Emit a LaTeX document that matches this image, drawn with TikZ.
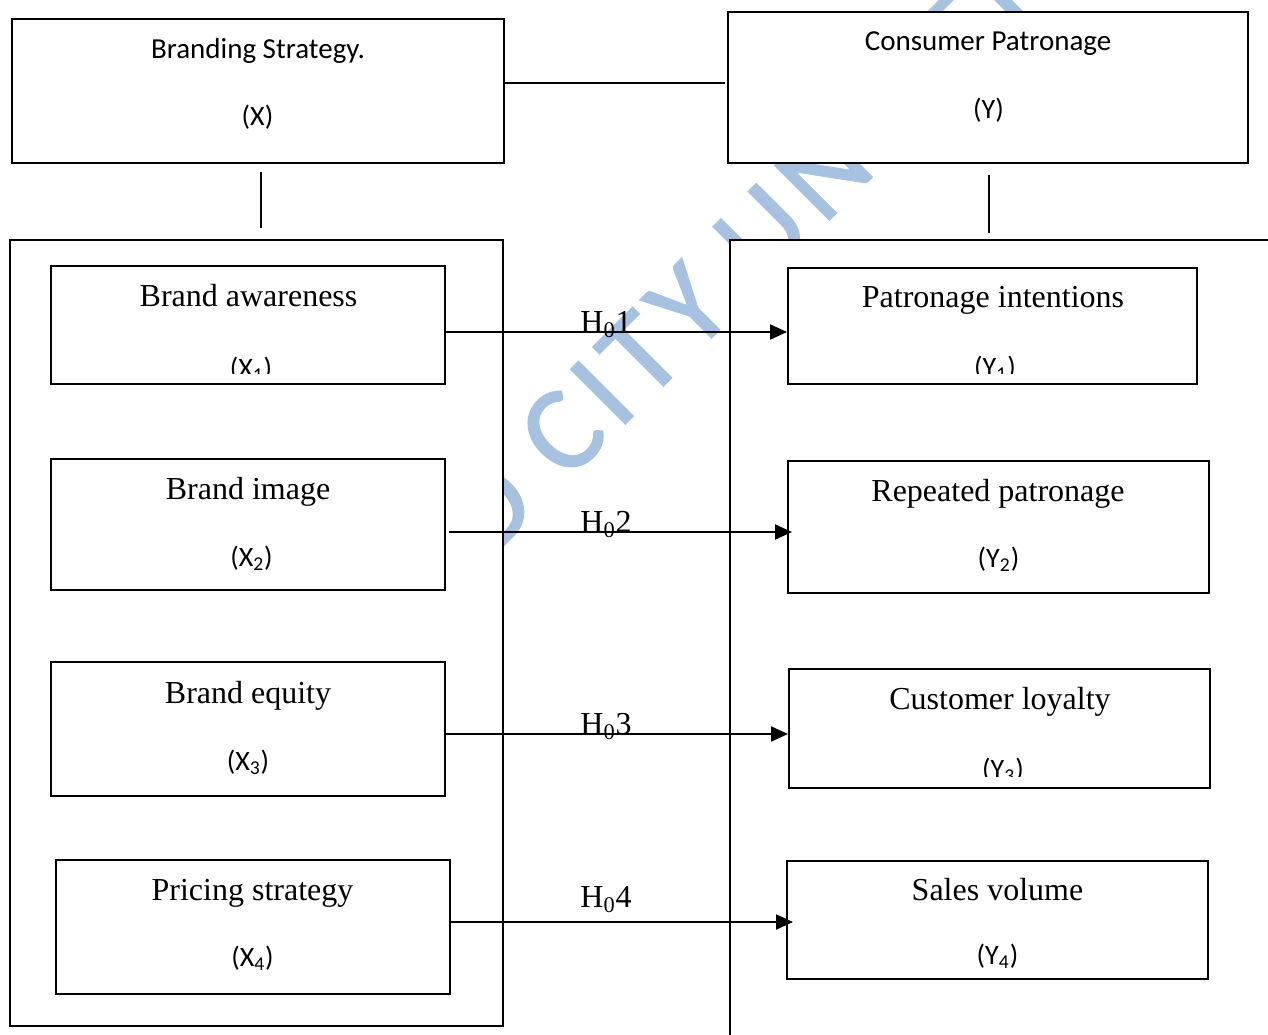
\documentclass[tikz,border=0pt]{standalone}
\usepackage{fontspec}
\setmainfont{Liberation Serif}
\newfontfamily\calfont{Carlito}
\newfontfamily\wmfont[FakeBold=1.6,LetterSpace=8]{Carlito}
\usetikzlibrary{arrows.meta,fit,calc}
\definecolor{wmblue}{RGB}{166,194,224}
\begin{document}
\begin{tikzpicture}[x=0.5pt,y=-0.5pt,
  boxnode/.style={draw, line width=1pt, fill=white, inner sep=0pt},
  ttltxt/.style={inner sep=0pt, anchor=base, font=\fontsize{16}{19}\selectfont},
  captxt/.style={inner sep=0pt, anchor=base, font=\calfont\fontsize{14.5}{17}\selectfont},
  vartxt/.style={inner sep=0pt, anchor=base, font=\calfont\fontsize{14}{17}\selectfont},
  hlabtxt/.style={inner sep=0pt, anchor=base west, font=\fontsize{16}{19}\selectfont},
  connline/.style={line width=1pt},
  arrline/.style={line width=1pt, -{Triangle[length=8.5pt,width=7.5pt]}}]
\clip (0,0) rectangle (1268,1034);
% watermark
\node[text=wmblue, inner sep=0pt, anchor=base west, rotate=45,
      font=\wmfont\fontsize{60}{66}\selectfont] (wm) at (488,561) {D CITY UNIVERSITY};
% outer boxes
\node[boxnode, fit={(10,240) (503,1026)}] (LB) {};
\node[boxnode, fit={(730,240) (1300,1060)}] (RB) {};
\node[boxnode, fit={(12,19) (504,163)}] (X) {};
\node[boxnode, fit={(728,12) (1248,163)}] (Y) {};
% inner boxes
\node[boxnode, fit={(51,266) (445,384)}] (X1) {};
\node[boxnode, fit={(51,459) (445,590)}] (X2) {};
\node[boxnode, fit={(51,662) (445,796)}] (X3) {};
\node[boxnode, fit={(56,860) (450,994)}] (X4) {};
\node[boxnode, fit={(788,268) (1197,384)}] (Y1) {};
\node[boxnode, fit={(788,461) (1209,593)}] (Y2) {};
\node[boxnode, fit={(789,669) (1210,788)}] (Y3) {};
\node[boxnode, fit={(787,861) (1208,979)}] (Y4) {};
% texts top
\node[captxt] (tX) at (258,58) {Branding Strategy.};
\node[vartxt] (vX) at (257.5,125) {(X)};
\node[captxt] (tY) at (988,50) {Consumer Patronage};
\node[vartxt] (vY) at (988.5,118) {(Y)};
% texts left
\node[ttltxt] (tX1) at (248.5,306) {Brand awareness};
\begin{scope}
\clip (60,330) rectangle (440,373);
\node[vartxt] (vX1) at (251,377) {(X\textsubscript{1})};
\end{scope}
\node[ttltxt] (tX2) at (248,499) {Brand image};
\node[vartxt] (vX2) at (251.5,566) {(X\textsubscript{2})};
\node[ttltxt] (tX3) at (248,703) {Brand equity};
\node[vartxt] (vX3) at (248,770) {(X\textsubscript{3})};
\node[ttltxt] (tX4) at (252.5,900) {Pricing strategy};
\node[vartxt] (vX4) at (252.5,966) {(X\textsubscript{4})};
% texts right
\node[ttltxt] (tY1) at (993,307) {Patronage intentions};
\begin{scope}
\clip (800,330) rectangle (1190,373);
\node[vartxt] (vY1) at (995,376) {(Y\textsubscript{1})};
\end{scope}
\node[ttltxt] (tY2) at (998,501) {Repeated patronage};
\node[vartxt] (vY2) at (998.5,567) {(Y\textsubscript{2})};
\node[ttltxt] (tY3) at (1000,709) {Customer loyalty};
\begin{scope}
\clip (800,740) rectangle (1200,776);
\node[vartxt] (vY3) at (1003,778) {(Y\textsubscript{3})};
\end{scope}
\node[ttltxt] (tY4) at (997.5,900) {Sales volume};
\node[vartxt] (vY4) at (997.5,964) {(Y\textsubscript{4})};
% connectors between top boxes
\coordinate (ye) at (725,83);
\draw[connline] (X.east |- ye) -- (ye);
\coordinate (vx1) at (261,172);
\coordinate (vx2) at (261,228);
\draw[connline] (vx1) -- (vx2);
\coordinate (vy1) at (989,175);
\coordinate (vy2) at (989,233);
\draw[connline] (vy1) -- (vy2);
% arrows
\coordinate (a1) at (0,332);
\draw[arrline] (X1.east |- a1) -- (Y1.west |- a1);
\coordinate (a2s) at (449,532);
\coordinate (a2e) at (792,532);
\draw[arrline] (a2s) -- (a2e);
\coordinate (a3) at (0,734);
\draw[arrline] (X3.east |- a3) -- (Y3.west |- a3);
\coordinate (a4e) at (793,922);
\draw[arrline] (X4.east |- a4e) -- (a4e);
% hypothesis labels
\node[hlabtxt] (h1) at (580,332) {H\textsubscript{0}1};
\node[hlabtxt] (h2) at (580,532) {H\textsubscript{0}2};
\node[hlabtxt] (h3) at (580,734) {H\textsubscript{0}3};
\node[hlabtxt] (h4) at (580,907) {H\textsubscript{0}4};
\end{tikzpicture}
\end{document}
